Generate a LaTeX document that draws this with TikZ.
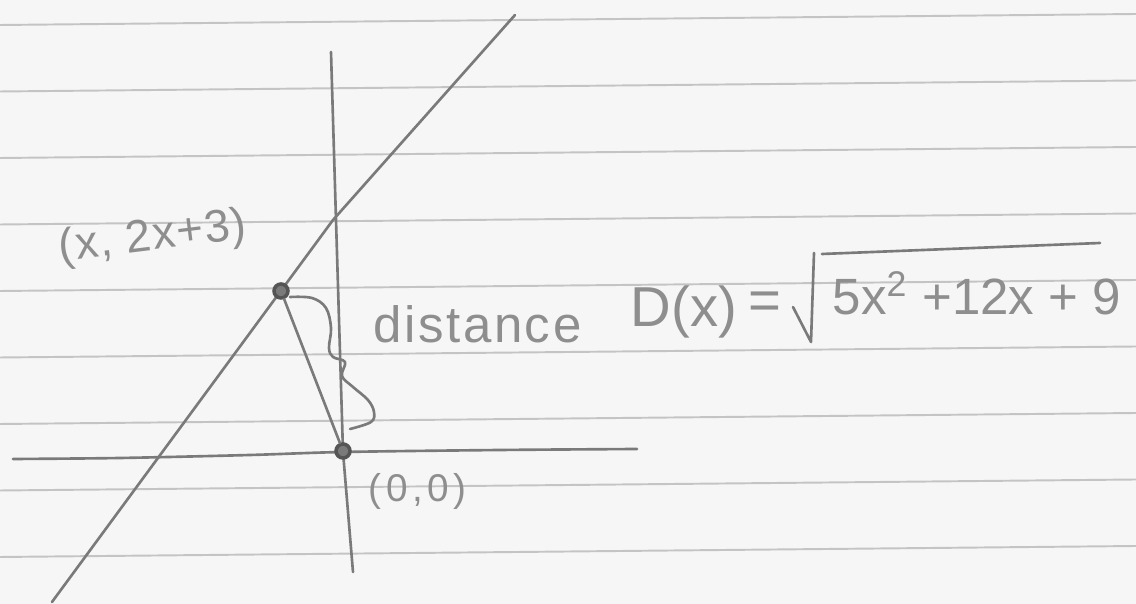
\documentclass[tikz,border=0pt]{standalone}
\usepackage{fontspec}
\newfontfamily\handfont{Liberation Sans}
\definecolor{paper}{RGB}{246,246,246}
\definecolor{ruling}{RGB}{196,196,196}
\definecolor{pencil}{RGB}{122,122,122}

\begin{document}
\begin{tikzpicture}[x=.01cm,y=-.01cm,
  ink/.style={pencil,line width=.75pt,line cap=round,line join=round},
  rule/.style={ruling,line width=.55pt},
  dot/.style={circle,draw=pencil!70!black,fill=pencil,line width=1pt,inner sep=0pt,minimum size=.14cm},
  hand/.style={text=pencil!85,inner sep=0pt,font=\handfont\fontsize{#1}{#1}\selectfont}]
\path[use as bounding box,fill=paper] (0,0) rectangle (1136,604);

% ruled paper
\foreach \i in {0,...,8}
  \draw[rule] (0,{25+66.5*\i}) -- (1136,{14+66.5*\i});

% axes and the line y=2x+3
\draw[ink] plot[smooth] coordinates {(13,459) (120,458) (250,455) (343,452) (500,450) (637,449)};
\draw[ink] (331,52) -- (336,220) -- (343,452) -- (353,572);
\draw[ink] (52,602) -- (333,220) -- (515,15);

% the two points
\node[dot] (pt) at (281,291) {};
\node[dot] (origin) at (343,451) {};
\draw[ink] (pt) -- (origin);

% brace
\draw[ink] plot[smooth,tension=.6] coordinates {(290,297) (312,298) (326,308) (331,328) (329,348) (333,357) (345,362) (342,376) (353,387) (368,400) (374,412) (371,422) (350,429)};

% labels
\node[hand=13,rotate=7] (ptlabel) at (153,238) {\addfontfeatures{LetterSpace=3}(x, 2x+3)};
\node[hand=14.5,anchor=base west] (dist) at (373,343) {\addfontfeatures{LetterSpace=5}distance};
\node[hand=16,anchor=base west] (dfun) at (630,327) {D(x)};
\node[hand=16] (eq) at (765,306) {=};
\draw[ink] (793,307) -- (811,342) -- (814,253);
\draw[ink] (822,254) -- (1100,243);
\node[hand=14.5,anchor=base west] (root) at (832,315) {5x\textsuperscript{2} +12x + 9};
\node[hand=11,anchor=base west] (olabel) at (368,502) {\addfontfeatures{LetterSpace=12}(0,0)};
\end{tikzpicture}
\end{document}
